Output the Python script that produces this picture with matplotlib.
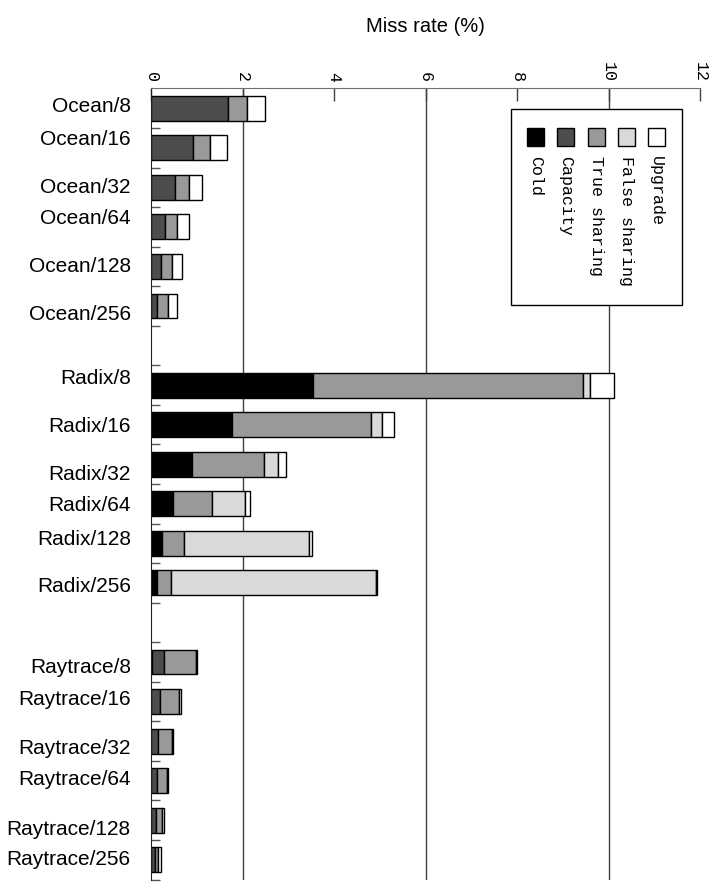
import numpy as np
import matplotlib
matplotlib.use('Agg')
import matplotlib.pyplot as plt
from matplotlib.patches import Rectangle

# benchmark / processor-count rows, top to bottom
groups = ['Ocean', 'Radix', 'Raytrace']
procs = [8, 16, 32, 64, 128, 256]

# miss rate components (%) per row, Ocean then Radix then Raytrace
cold = [0, 0, 0, 0, 0, 0,
        3.54, 1.78, 0.90, 0.47, 0.25, 0.14,
        0.03, 0, 0, 0, 0, 0]
capacity = [1.69, 0.92, 0.53, 0.31, 0.21, 0.14,
            0, 0, 0, 0, 0, 0,
            0.26, 0.20, 0.16, 0.14, 0.10, 0.09]
true_sharing = [0.41, 0.37, 0.29, 0.26, 0.24, 0.23,
                5.91, 3.03, 1.57, 0.86, 0.48, 0.30,
                0.69, 0.42, 0.29, 0.22, 0.14, 0.07]
false_sharing = [0, 0, 0, 0, 0, 0,
                 0.14, 0.23, 0.31, 0.73, 2.73, 4.47,
                 0, 0, 0, 0, 0, 0]
upgrade = [0.40, 0.38, 0.29, 0.26, 0.22, 0.20,
           0.53, 0.28, 0.16, 0.10, 0.05, 0.03,
           0.03, 0.04, 0.04, 0.02, 0.04, 0.05]

# label nudges (in row units) so the names sit where they were typeset
label_shift = [-0.10, -0.27, -0.05, -0.27, -0.05, 0.16,
               -0.23, 0.00, 0.22, 0.00, -0.15, 0.05,
               0.08, -0.11, 0.13, -0.09, 0.18, -0.06]

series = [('Cold', cold, '#000000'),
          ('Capacity', capacity, '#4d4d4d'),
          ('True sharing', true_sharing, '#999999'),
          ('False sharing', false_sharing, '#d9d9d9'),
          ('Upgrade', upgrade, '#ffffff')]

labels = [f'{g}/{p}' for g in groups for p in procs]
# one empty row between groups
rows = np.array([gi * (len(procs) + 1) + pi for gi in range(len(groups)) for pi in range(len(procs))])
nslots = len(groups) * (len(procs) + 1) - 1
centers = rows + 0.5

fig = plt.figure(figsize=(7.15, 8.88), dpi=100)
ax = fig.add_axes([151 / 715, 1 - 879.5 / 888, 549 / 715, 791 / 888])

for g in [2, 6, 10]:
    ax.axvline(g, color='#404040', lw=1, zorder=0)

left = np.zeros(len(labels))
for name, vals, col in series:
    vals = np.array(vals)
    m = vals > 0
    ax.barh(centers[m], vals[m], left=left[m], height=0.63, color=col,
            edgecolor='black', linewidth=1, zorder=2)
    left += vals

ax.set_xlim(0, 12)
ax.set_ylim(nslots, 0)

ax.xaxis.tick_top()
ax.set_xticks(np.arange(0, 13, 2))
ax.set_xticklabels([str(v) for v in range(0, 13, 2)], rotation=-90,
                   family='Liberation Mono', fontsize=12)
ax.tick_params(axis='x', direction='in', length=9.5, width=1, color='#404040', pad=5)

ax.set_yticks(centers + np.array(label_shift))
ax.set_yticklabels(labels, family='Liberation Sans', fontsize=15)
ax.tick_params(axis='y', which='major', length=0, pad=14.5)
ax.set_yticks(np.arange(1, nslots + 1), minor=True)
ax.tick_params(axis='y', which='minor', direction='in', length=6.5, width=1, color='#555555')

for s in ['right', 'bottom']:
    ax.spines[s].set_visible(False)
ax.spines['top'].set_color('#707070')
ax.spines['left'].set_color('#202020')

fig.text(425 / 715, 1 - 27 / 888, 'Miss rate (%)', ha='center', va='center',
         family='Liberation Sans', fontsize=14.5)

# legend drawn sideways, like the axis labels
W, H = 715, 888
fig.add_artist(Rectangle((511 / W, 1 - 305 / H), 171 / W, 196 / H, transform=fig.transFigure,
                         facecolor='white', edgecolor='black', lw=1, zorder=5))
for i, (name, vals, col) in enumerate(series):
    cx = 535.7 + i * 30.2
    fig.add_artist(Rectangle(((cx - 8.5) / W, 1 - 146 / H), 17 / W, 17.5 / H,
                             transform=fig.transFigure, facecolor=col,
                             edgecolor='black', lw=1, zorder=6))
    fig.text(cx / W, 1 - 156 / H, name, rotation=-90, ha='center', va='top',
             family='Liberation Mono', fontsize=12, zorder=6)

fig.savefig('out.png', dpi=100)
